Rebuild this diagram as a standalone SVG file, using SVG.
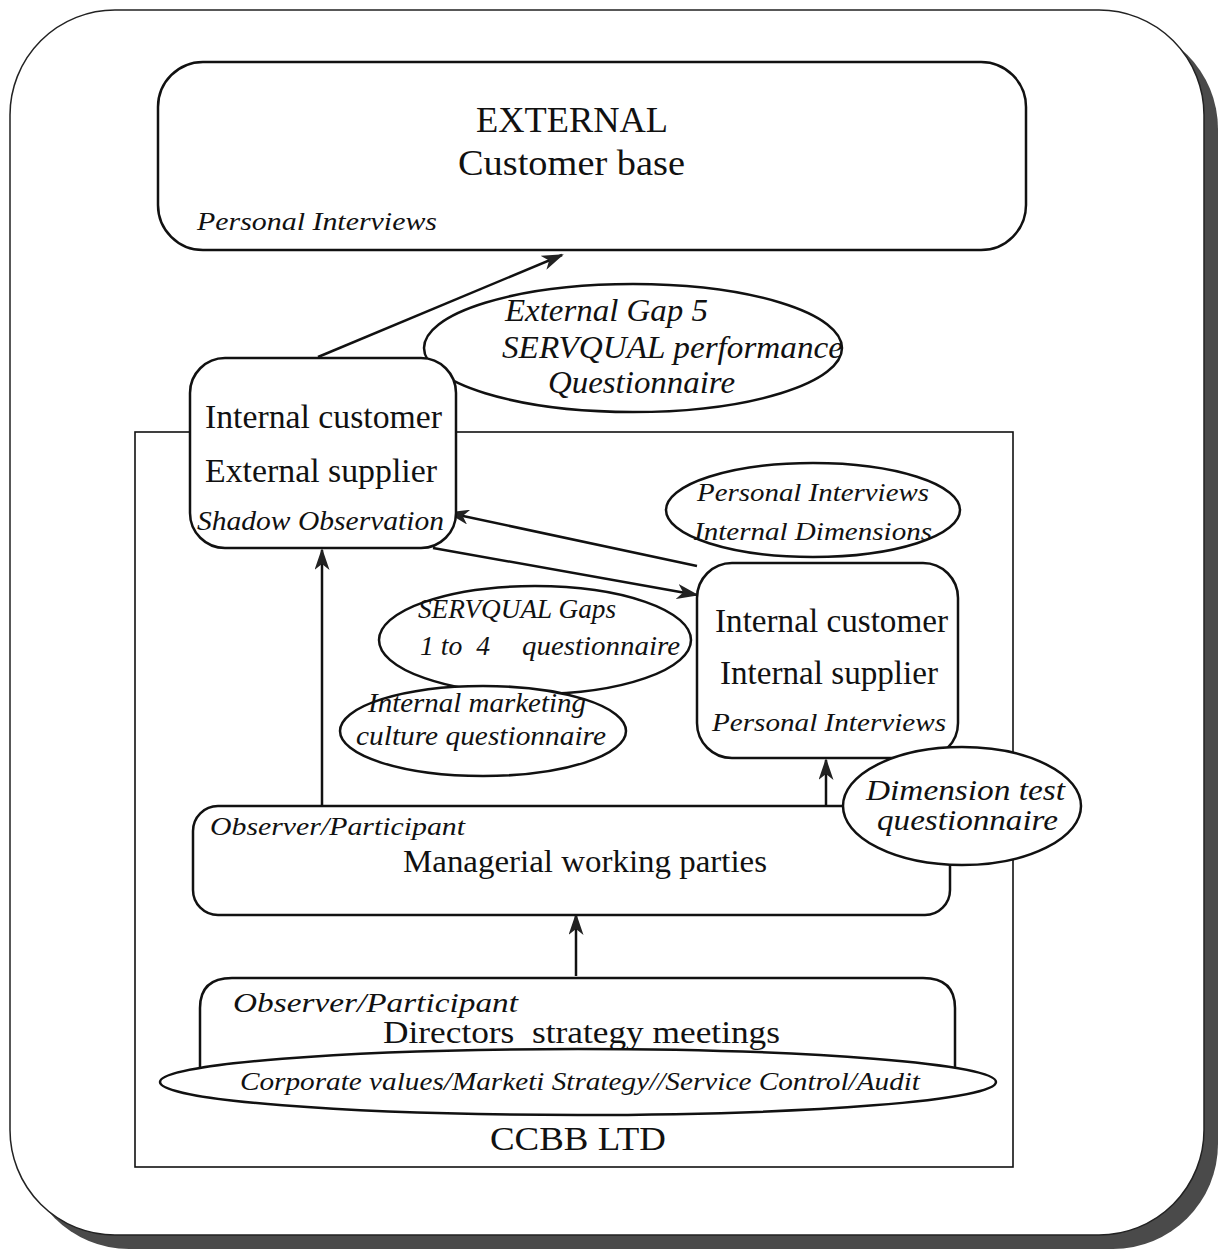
<svg xmlns="http://www.w3.org/2000/svg" width="1229" height="1252" viewBox="0 0 1229 1252">
<defs>
<style>
.n{fill:#fff;stroke:#111;stroke-width:2.5}
.f{fill:#fff;stroke:#111;stroke-width:1.6}
.t{font-family:"Liberation Serif","Times New Roman",serif;fill:#111;white-space:pre}
.i{font-style:italic}
.c{stroke:#111;stroke-width:2.5;fill:none;marker-end:url(#ah)}
</style>
<marker id="ah" viewBox="0 0 22 15" refX="20" refY="7.5" markerWidth="22" markerHeight="15" markerUnits="userSpaceOnUse" orient="auto">
<path d="M0,0 L22,7.5 L0,15 L6,7.5 Z" fill="#222"/>
</marker>
</defs>
<rect width="1229" height="1252" fill="#fff"/>
<g id="frame">
<rect x="24" y="24" width="1194" height="1225" rx="105" fill="#4a4a4a"/>
<rect x="10" y="10" width="1194" height="1225" rx="105" fill="#fff" stroke="#222" stroke-width="1.5"/>
</g>
<g id="ccbb">
<rect class="f" x="135" y="432" width="878" height="735"/>
<text class="t" x="490" y="1150" font-size="33" textLength="176" lengthAdjust="spacingAndGlyphs">CCBB LTD</text>
</g>
<g id="connectors">
<line class="c" x1="318" y1="357" x2="562" y2="255"/>
<line class="c" x1="697" y1="566" x2="449" y2="513"/>
<line class="c" x1="433" y1="548" x2="697" y2="595"/>
<line class="c" x1="322" y1="808" x2="322" y2="550"/>
<line class="c" x1="826" y1="808" x2="826" y2="760"/>
<line class="c" x1="576" y1="976" x2="576" y2="915"/>
</g>
<g id="external">
<rect class="n" x="158" y="62" width="868" height="188" rx="45"/>
<text class="t" x="476" y="132" font-size="36" textLength="192" lengthAdjust="spacingAndGlyphs">EXTERNAL</text>
<text class="t" x="458" y="175" font-size="36" textLength="227" lengthAdjust="spacingAndGlyphs">Customer base</text>
<text class="t i" x="197" y="230" font-size="26" textLength="240" lengthAdjust="spacingAndGlyphs">Personal Interviews</text>
</g>
<g id="gap5">
<ellipse class="n" cx="633" cy="348" rx="209" ry="64"/>
<text class="t i" x="505" y="321" font-size="31" textLength="203" lengthAdjust="spacingAndGlyphs">External Gap 5</text>
<text class="t i" x="502" y="358" font-size="31" textLength="341" lengthAdjust="spacingAndGlyphs">SERVQUAL performance</text>
<text class="t i" x="548" y="393" font-size="31" textLength="187" lengthAdjust="spacingAndGlyphs">Questionnaire</text>
</g>
<g id="int-ext">
<rect class="n" x="190" y="358" width="266" height="190" rx="35"/>
<text class="t" x="205" y="428" font-size="34" textLength="237" lengthAdjust="spacingAndGlyphs">Internal customer</text>
<text class="t" x="205" y="482" font-size="34" textLength="232" lengthAdjust="spacingAndGlyphs">External supplier</text>
<text class="t i" x="197" y="530" font-size="27" textLength="247" lengthAdjust="spacingAndGlyphs">Shadow Observation</text>
</g>
<g id="pi-dimensions">
<ellipse class="n" cx="813" cy="510" rx="147" ry="47"/>
<text class="t i" x="697" y="501" font-size="26" textLength="232" lengthAdjust="spacingAndGlyphs">Personal Interviews</text>
<text class="t i" x="694" y="540" font-size="26" textLength="238" lengthAdjust="spacingAndGlyphs">Internal Dimensions</text>
</g>
<g id="int-int">
<rect class="n" x="697" y="563" width="261" height="195" rx="35"/>
<text class="t" x="715" y="632" font-size="33" textLength="233" lengthAdjust="spacingAndGlyphs">Internal customer</text>
<text class="t" x="720" y="684" font-size="33" textLength="218" lengthAdjust="spacingAndGlyphs">Internal supplier</text>
<text class="t i" x="712" y="731" font-size="26" textLength="234" lengthAdjust="spacingAndGlyphs">Personal Interviews</text>
</g>
<g id="servqual-gaps">
<ellipse class="n" cx="535" cy="640" rx="156" ry="54"/>
<text class="t i" x="418" y="618" font-size="27" textLength="198" lengthAdjust="spacingAndGlyphs">SERVQUAL Gaps</text>
<text class="t i" x="420" y="655" font-size="27" textLength="70" lengthAdjust="spacingAndGlyphs">1 to  4</text>
<text class="t i" x="522" y="655" font-size="27" textLength="158" lengthAdjust="spacingAndGlyphs">questionnaire</text>
</g>
<g id="marketing-culture">
<ellipse class="n" cx="483" cy="731" rx="143" ry="45"/>
<text class="t i" x="368" y="712" font-size="27" textLength="218" lengthAdjust="spacingAndGlyphs">Internal marketing</text>
<text class="t i" x="356" y="745" font-size="27" textLength="250" lengthAdjust="spacingAndGlyphs">culture questionnaire</text>
</g>
<g id="managerial">
<rect class="n" x="193" y="806" width="757" height="109" rx="25"/>
<text class="t i" x="210" y="835" font-size="26" textLength="255" lengthAdjust="spacingAndGlyphs">Observer/Participant</text>
<text class="t" x="403" y="872" font-size="32" textLength="364" lengthAdjust="spacingAndGlyphs">Managerial working parties</text>
</g>
<g id="dimension-test">
<ellipse class="n" cx="962" cy="806" rx="119" ry="59"/>
<text class="t i" x="866" y="800" font-size="29" textLength="199" lengthAdjust="spacingAndGlyphs">Dimension test</text>
<text class="t i" x="877" y="830" font-size="29" textLength="181" lengthAdjust="spacingAndGlyphs">questionnaire</text>
</g>
<g id="directors">
<path class="n" d="M200,1068 L200,1008 Q200,978 232,978 L923,978 Q955,978 955,1008 L955,1068"/>
<text class="t i" x="233" y="1012" font-size="28" textLength="285" lengthAdjust="spacingAndGlyphs">Observer/Participant</text>
<text class="t" x="383" y="1043" font-size="32" textLength="397" lengthAdjust="spacingAndGlyphs">Directors  strategy meetings</text>
</g>
<g id="corporate">
<ellipse class="n" cx="578" cy="1082" rx="418" ry="33"/>
<text class="t i" x="240" y="1090" font-size="25" textLength="680" lengthAdjust="spacingAndGlyphs">Corporate values/Marketi Strategy//Service Control/Audit</text>
</g>
</svg>
